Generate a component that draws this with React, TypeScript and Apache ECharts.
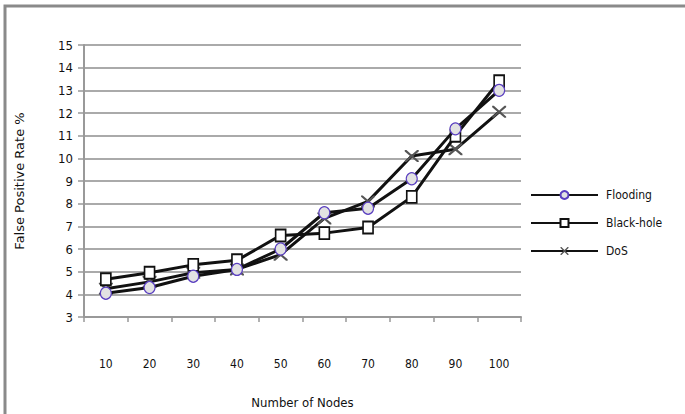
import React, { useEffect, useRef } from "react";
import * as echarts from "echarts";

const categories = ["10", "20", "30", "40", "50", "60", "70", "80", "90", "100"];
const flooding = [4.05, 4.3, 4.8, 5.1, 6.0, 7.6, 7.8, 9.1, 11.3, 13.0];
const blackHole = [4.67, 4.95, 5.3, 5.5, 6.6, 6.7, 6.95, 8.3, 11.0, 13.4];
const dos = [4.25, 4.55, 4.95, 5.1, 5.75, 7.35, 8.1, 10.1, 10.4, 12.05];

const X_PATH =
  "path://M0,0 L1.2,0 L5,3.8 L8.8,0 L10,0 L10,1.2 L6.2,5 L10,8.8 L10,10 L8.8,10 L5,6.2 L1.2,10 L0,10 L0,8.8 L3.8,5 L0,1.2 Z";

const FONT = "'Liberation Sans Narrow', 'DejaVu Sans Condensed', 'Liberation Sans', sans-serif";

export default function App() {
  const ref = useRef<HTMLDivElement>(null);
  useEffect(() => {
    if (!ref.current) return;
    const chart = echarts.init(ref.current, null, { renderer: "svg" });
    chart.setOption({
      animation: false,
      backgroundColor: "#ffffff",
      graphic: [
        {
          type: "rect",
          shape: { x: 5, y: 6, width: 720, height: 440 },
          style: { fill: "none", stroke: "#8a8a8a", lineWidth: 3 },
          silent: true,
        },
      ],
      grid: { left: 84, right: 164, top: 45, bottom: 95 },
      legend: {
        orient: "vertical",
        left: 525,
        top: 184,
        itemWidth: 67,
        itemHeight: 10,
        itemGap: 16,
        textStyle: { fontFamily: FONT, fontSize: 12, color: "#111", padding: [0, 0, 0, 3] },
        data: ["Flooding", "Black-hole", "DoS"],
      },
      xAxis: {
        type: "category",
        data: categories,
        boundaryGap: true,
        name: "Number of Nodes",
        nameLocation: "middle",
        nameGap: 79,
        nameTextStyle: { fontFamily: FONT, fontSize: 13, color: "#111" },
        axisLine: { lineStyle: { color: "#999", width: 2 } },
        axisTick: { show: true, length: 5, lineStyle: { color: "#999", width: 1.5 } },
        axisLabel: { margin: 41, fontFamily: FONT, fontSize: 12, color: "#111" },
      },
      yAxis: {
        type: "value",
        min: 3,
        max: 15,
        interval: 1,
        name: "False Positive Rate %",
        nameLocation: "middle",
        nameGap: 58,
        nameTextStyle: { fontFamily: "'DejaVu Sans', sans-serif", fontSize: 13, color: "#111" },
        axisLine: { show: true, lineStyle: { color: "#999", width: 2 } },
        axisTick: { show: true, length: 6, lineStyle: { color: "#999", width: 1.5 } },
        axisLabel: { margin: 11, fontFamily: FONT, fontSize: 13, color: "#111" },
        splitLine: { lineStyle: { color: "#aaa", width: 2 } },
      },
      series: [
        {
          name: "DoS",
          type: "line",
          data: dos,
          symbol: X_PATH,
          symbolSize: [14, 12],
          lineStyle: { color: "#111", width: 3 },
          itemStyle: { color: "#555" },
          z: 2,
        },
        {
          name: "Black-hole",
          type: "line",
          data: blackHole,
          symbol: "rect",
          symbolSize: [10, 12],
          lineStyle: { color: "#111", width: 3 },
          itemStyle: { color: "#ffffff", borderColor: "#111", borderWidth: 1.8 },
          z: 3,
        },
        {
          name: "Flooding",
          type: "line",
          data: flooding,
          symbol: "circle",
          symbolSize: [11, 12],
          lineStyle: { color: "#111", width: 3 },
          itemStyle: { color: "#e2e2e2", borderColor: "#5a3fc0", borderWidth: 1.2 },
          z: 4,
        },
      ],
    });
    return () => chart.dispose();
  }, []);
  return (
    <div
      ref={ref}
      style={{ position: "fixed", left: 0, top: 0, width: 685, height: 414 }}
    />
  );
}
